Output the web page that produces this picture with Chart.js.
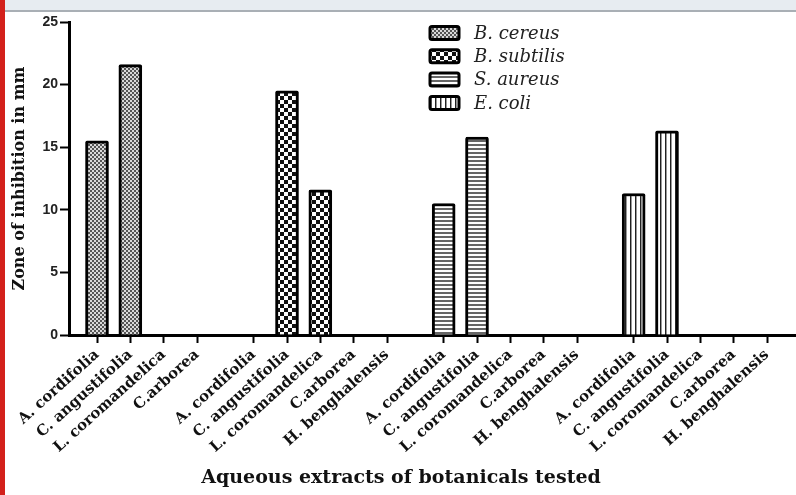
<!DOCTYPE html>
<html>
<head>
<meta charset="utf-8">
<script src="https://cdn.jsdelivr.net/npm/chart.js@4.4.0/dist/chart.umd.min.js"></script>
<style>
  body { margin: 0; background: #fff; }
  #wrap { position: relative; width: 796px; height: 495px; overflow: hidden; }
  #topband { position: absolute; left: 0; top: 0; width: 796px; height: 10px; background: #e7ecf1; border-bottom: 2px solid #a9afb5; }
  #redbar { position: absolute; left: 0; top: 0; width: 5px; height: 495px; background: #d3211b; }
  canvas { position: absolute; left: 0; top: 0; }
</style>
</head>
<body>
<div id="wrap">
  <canvas id="chart" width="796" height="495"></canvas>
  <div id="topband"></div>
  <div id="redbar"></div>
</div>
<script>
// groups of extracts, one group per test organism
const organisms = ['B. cereus', 'B. subtilis', 'S. aureus', 'E. coli'];
const group1Labels = ['A. cordifolia', 'C. angustifolia', 'L. coromandelica', 'C.arborea'];
const groupLabels = ['A. cordifolia', 'C. angustifolia', 'L. coromandelica', 'C.arborea', 'H. benghalensis'];

// zone of inhibition (mm)
const bCereus = [15.5, 21.6, 0, 0];
const bSubtilis = [0, 19.5, 11.6, 0, 0];
const sAureus = [10.5, 15.8, 0, 0, 0];
const eColi = [11.3, 16.3, 0, 0, 0];

const yTicks = [0, 5, 10, 15, 20, 25];
const xTitle = 'Aqueous extracts of botanicals tested';

const groups = [
  { labels: group1Labels, values: bCereus },
  { labels: groupLabels, values: bSubtilis },
  { labels: groupLabels, values: sAureus },
  { labels: groupLabels, values: eColi }
];

// place groups along a linear axis with a gap between them
const GAP = 1.7;
let tickPos = [], tickText = [];
let start = 0;
groups.forEach(g => {
  g.pos = g.labels.map((l, i) => start + i);
  tickPos.push(...g.pos);
  tickText.push(...g.labels);
  start += g.labels.length - 1 + GAP;
});

function makePattern(w, h, draw) {
  const c = document.createElement('canvas');
  c.width = w; c.height = h;
  const g = c.getContext('2d');
  draw(g);
  return c.getContext('2d').createPattern(c, 'repeat');
}

const patterns = [
  makePattern(4, 4, g => {
    g.fillStyle = '#d9d9d9'; g.fillRect(0, 0, 4, 4);
    g.fillStyle = '#555'; g.fillRect(0, 0, 2, 2); g.fillRect(2, 2, 2, 2);
  }),
  makePattern(8, 8, g => {
    g.fillStyle = '#fff'; g.fillRect(0, 0, 8, 8);
    g.fillStyle = '#111'; g.fillRect(0, 0, 4, 4); g.fillRect(4, 4, 4, 4);
  }),
  makePattern(4, 4, g => {
    g.fillStyle = '#fff'; g.fillRect(0, 0, 4, 4);
    g.fillStyle = '#666'; g.fillRect(0, 0, 4, 2);
  }),
  makePattern(5, 4, g => {
    g.fillStyle = '#fff'; g.fillRect(0, 0, 5, 4);
    g.fillStyle = '#222'; g.fillRect(0, 0, 1, 4);
    g.fillStyle = '#999'; g.fillRect(1, 0, 1, 4);
  })
];

const datasets = groups.map((g, i) => ({
  label: organisms[i],
  data: g.values.map((v, j) => ({ x: g.pos[j], y: v })),
  backgroundColor: patterns[i],
  borderColor: '#000',
  borderWidth: 3,
  borderRadius: 2,
  borderSkipped: 'start',
  barThickness: 23,
  grouped: false
}));

// legend inside the plot + x title centred on the page
const extras = {
  id: 'extras',
  afterDraw(chart) {
    const ctx = chart.ctx;
    ctx.save();
    chart.data.datasets.forEach((ds, i) => {
      const y = 33 + i * 23.3;
      ctx.fillStyle = ds.backgroundColor;
      ctx.strokeStyle = '#000';
      ctx.lineWidth = 3;
      ctx.beginPath();
      ctx.roundRect(430, y - 6.5, 29, 13, 2);
      ctx.fill();
      ctx.stroke();
      ctx.fillStyle = '#222';
      ctx.font = 'italic 18px "DejaVu Serif"';
      ctx.textBaseline = 'middle';
      ctx.textAlign = 'left';
      ctx.fillText(ds.label, 474, y + 1);
    });
    ctx.fillStyle = '#111';
    ctx.font = 'bold 19px "DejaVu Serif"';
    ctx.textAlign = 'center';
    ctx.textBaseline = 'middle';
    ctx.fillText(xTitle, 401, 478);
    ctx.restore();
  }
};

new Chart(document.getElementById('chart'), {
  type: 'bar',
  data: { datasets },
  plugins: [extras],
  options: {
    responsive: false,
    animation: false,
    layout: { padding: { left: 8, top: 22, right: 0, bottom: 0 } },
    plugins: { legend: { display: false }, tooltip: { enabled: false } },
    scales: {
      x: {
        type: 'linear',
        min: -0.84,
        max: 20.97,
        offset: false,
        afterBuildTicks: scale => { scale.ticks = tickPos.map(v => ({ value: v })); },
        afterFit: scale => { scale.height = 160; },
        ticks: {
          autoSkip: false,
          minRotation: 42,
          maxRotation: 42,
          color: '#111',
          font: { family: 'DejaVu Serif', weight: 'bold', size: 15 },
          callback: (v, i) => tickText[i]
        },
        grid: { drawOnChartArea: false, offset: false, color: '#000', tickLength: 8, tickWidth: 2 },
        border: { color: '#000', width: 3 },
        title: { display: false }
      },
      y: {
        min: 0,
        max: 25,
        afterBuildTicks: scale => { scale.ticks = yTicks.map(v => ({ value: v })); },
        afterFit: scale => { scale.width = 61; },
        ticks: {
          color: '#222',
          padding: 2,
          font: { family: 'Liberation Sans', weight: 'bold', size: 14 }
        },
        grid: { drawOnChartArea: false, color: '#000', tickLength: 9, tickWidth: 2 },
        border: { color: '#000', width: 3 },
        title: {
          display: true,
          text: 'Zone of inhibition in mm',
          color: '#111',
          font: { family: 'DejaVu Serif', weight: 'bold', size: 16 },
          padding: { top: 2, bottom: 0 }
        }
      }
    }
  }
});
</script>
</body>
</html>
